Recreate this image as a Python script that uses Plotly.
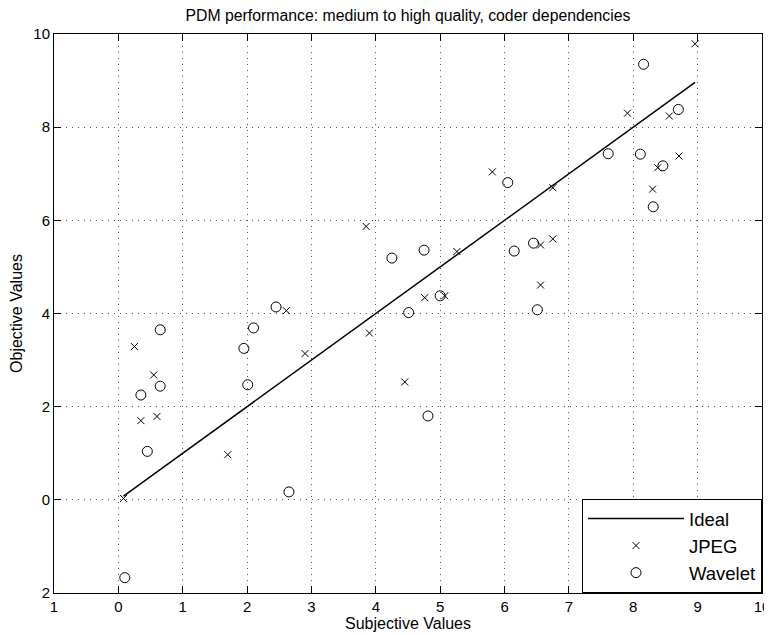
import plotly.graph_objects as go

# ---- data ----
jpeg_x = [0.08, 0.25, 0.55, 0.35, 0.60, 1.70, 2.61, 2.90, 3.85, 3.90, 4.45, 4.76, 5.07,
          5.26, 5.81, 6.75, 6.75, 6.56, 6.56, 7.91, 8.56, 8.71, 8.38, 8.30, 8.96]
jpeg_y = [0.03, 3.29, 2.68, 1.70, 1.79, 0.97, 4.06, 3.14, 5.87, 3.58, 2.53, 4.34, 4.38,
          5.33, 7.04, 6.70, 5.60, 5.47, 4.61, 8.30, 8.24, 7.38, 7.13, 6.67, 9.79]

wavelet_x = [0.10, 0.65, 0.65, 0.35, 0.45, 2.45, 2.10, 1.95, 2.01, 2.65, 4.25, 4.75, 4.51,
             5.00, 4.81, 6.05, 6.45, 6.15, 6.51, 7.61, 8.11, 8.46, 8.31, 8.70, 8.16]
wavelet_y = [-1.67, 3.65, 2.44, 2.25, 1.04, 4.14, 3.69, 3.25, 2.47, 0.17, 5.19, 5.36, 4.02,
             4.38, 1.80, 6.81, 5.51, 5.34, 4.08, 7.43, 7.42, 7.17, 6.29, 8.38, 9.35]

ideal_x = [min(jpeg_x + wavelet_x), max(jpeg_x + wavelet_x)]
ideal_y = ideal_x

x_tickvals = [-1, 0, 1, 2, 3, 4, 5, 6, 7, 8, 9, 10]
x_ticktext = ["1", "0", "1", "2", "3", "4", "5", "6", "7", "8", "9", "10"]
y_tickvals = [-2, 0, 2, 4, 6, 8, 10]
y_ticktext = ["2", "0", "2", "4", "6", "8", "10"]

FONT = "Liberation Sans, Arial, Helvetica, sans-serif"

fig = go.Figure()
fig.add_trace(go.Scatter(x=ideal_x, y=ideal_y, mode="lines", name="Ideal",
                         line=dict(color="black", width=1.5)))
fig.add_trace(go.Scatter(x=jpeg_x, y=jpeg_y, mode="markers", name="JPEG",
                         marker=dict(symbol="x-thin-open", size=7, color="black",
                                     line=dict(color="black", width=1))))
fig.add_trace(go.Scatter(x=wavelet_x, y=wavelet_y, mode="markers", name="Wavelet",
                         marker=dict(symbol="circle-open", size=10, color="black",
                                     line=dict(color="black", width=1))))

axis_common = dict(
    showline=True, linecolor="black", linewidth=1, mirror="ticks",
    ticks="inside", ticklen=7, tickcolor="black", tickwidth=1,
    showgrid=True, gridcolor="#555555", gridwidth=1, griddash="1px,5px",
    zeroline=False, automargin=False,
    tickfont=dict(family=FONT, size=15, color="black"),
)

# The page body adds an 8px offset, so the figure is sized to fit the window.
fig.update_layout(
    width=764, height=627,
    margin=dict(l=46, r=10, t=26, b=42),
    paper_bgcolor="white", plot_bgcolor="white",
    font=dict(family=FONT, color="black", size=15),
    title=dict(text="PDM performance: medium to high quality, coder dependencies",
               x=0.5, xref="paper", xanchor="center", y=1, yref="container",
               yanchor="top", pad=dict(t=2), automargin=False,
               font=dict(family=FONT, size=15.8, color="black")),
    xaxis=dict(range=[-1, 10], tickvals=x_tickvals, ticktext=x_ticktext,
               title=dict(text="Subjective Values", standoff=0,
                          font=dict(family=FONT, size=16, color="black")),
               **axis_common),
    yaxis=dict(range=[-2, 10], tickvals=y_tickvals, ticktext=y_ticktext,
               title=dict(text="Objective Values", standoff=6,
                          font=dict(family=FONT, size=16, color="black")),
               **axis_common),
    legend=dict(x=1, y=0, xanchor="right", yanchor="bottom",
                bgcolor="white", bordercolor="black", borderwidth=1,
                font=dict(family=FONT, size=18.5, color="black"),
                itemwidth=96, tracegroupgap=0),
    showlegend=True,
)

fig.write_html("out.html")
